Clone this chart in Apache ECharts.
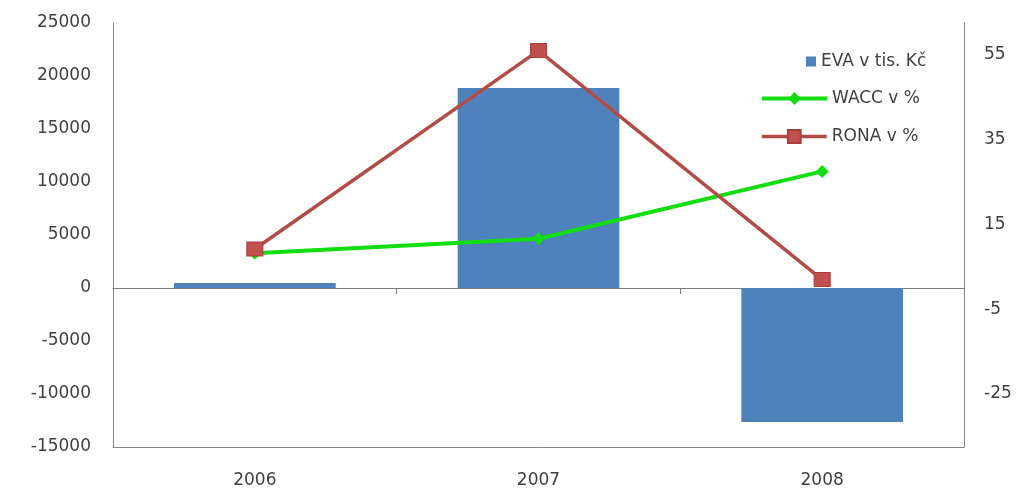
<!DOCTYPE html>
<html>
<head>
<meta charset="utf-8">
<script src="https://cdn.jsdelivr.net/npm/echarts@6/dist/echarts.min.js"></script>
<style>html,body{margin:0;padding:0;background:#fff;}#c{width:1024px;height:489px;}</style>
</head>
<body>
<div id="c"></div>
<script>
var years = ['2006', '2007', '2008'];
var eva = [470, 18870, -12640];
var wacc = [8.2, 11.6, 27.5];
var rona = [9.2, 56.0, 2.0];
var rightTicks = [-25, -5, 15, 35, 55];

var F = 'DejaVu Sans';
var txt = {color: '#404040', fontFamily: F, fontSize: 17};
var plain = function (v) { return String(v); };
var chart = echarts.init(document.getElementById('c'));
chart.setOption({
  backgroundColor: '#fff',
  animation: false,
  grid: {left: 113, right: 60, top: 23, bottom: 42},
  legend: [
    {data: ['EVA v tis. Kč'], left: 801, top: 48, itemWidth: 10, itemHeight: 10, icon: 'rect', textStyle: txt},
    {data: ['WACC v %'], left: 755, top: 85, itemWidth: 65, itemHeight: 16, textStyle: txt,
     lineStyle: {width: 4}},
    {data: ['RONA v %'], left: 755, top: 123, itemWidth: 65, itemHeight: 16, textStyle: txt,
     lineStyle: {width: 3.5}}
  ],
  xAxis: [
    {type: 'category', data: years, position: 'bottom',
     axisLine: {onZero: false, lineStyle: {color: '#868686', width: 1}},
     axisTick: {show: false},
     axisLabel: Object.assign({margin: 25}, txt)},
    {type: 'category', data: years, position: 'bottom',
     axisLine: {onZero: true, lineStyle: {color: '#7a7a7a', width: 1}},
     axisTick: {show: true, interval: 0, length: 6, lineStyle: {color: '#7a7a7a'}},
     axisLabel: {show: false}}
  ],
  yAxis: [
    {type: 'value', min: -15000, max: 25000, interval: 5000,
     axisLine: {show: true, lineStyle: {color: '#868686'}},
     axisTick: {show: false}, splitLine: {show: false},
     axisLabel: Object.assign({margin: 22, formatter: plain}, txt)},
    {type: 'value', min: -37.5, max: 62.5, interval: 2.5, position: 'right',
     axisLine: {show: true, lineStyle: {color: '#868686'}},
     axisTick: {show: false}, splitLine: {show: false},
     axisLabel: Object.assign({margin: 20, customValues: rightTicks, formatter: plain}, txt)}
  ],
  series: [
    {name: 'EVA v tis. Kč', type: 'bar', data: eva, barWidth: '57%', xAxisIndex: 0, yAxisIndex: 0,
     itemStyle: {color: '#4F81BD'}},
    {name: 'WACC v %', type: 'line', data: wacc, xAxisIndex: 0, yAxisIndex: 1,
     symbol: 'diamond', symbolSize: 13,
     lineStyle: {color: '#11DD11', width: 4},
     itemStyle: {color: '#11DD11'}},
    {name: 'RONA v %', type: 'line', data: rona, xAxisIndex: 0, yAxisIndex: 1,
     symbol: 'rect', symbolSize: [16, 14],
     lineStyle: {color: '#B14C48', width: 3.5},
     itemStyle: {color: '#C0504D', borderColor: '#A6403D', borderWidth: 1}}
  ]
});
</script>
</body>
</html>
